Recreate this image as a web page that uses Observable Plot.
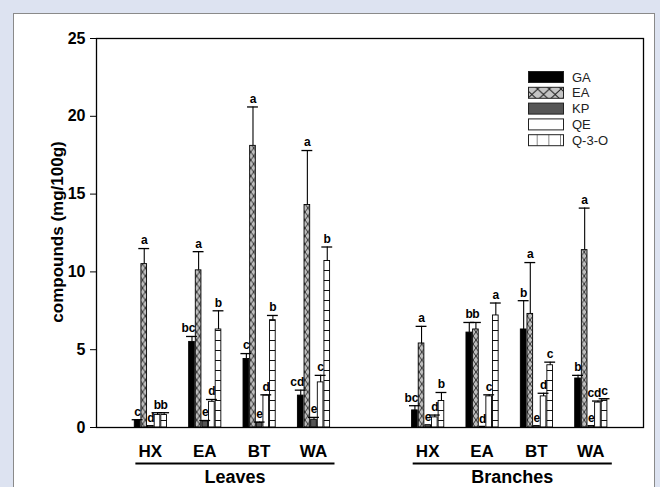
<!DOCTYPE html>
<html><head><meta charset="utf-8">
<script src="https://cdn.jsdelivr.net/npm/d3@7"></script>
<script src="https://cdn.jsdelivr.net/npm/@observablehq/plot@0.6"></script>
<style>
html,body{margin:0;padding:0;background:#dde3f1;width:660px;height:487px;overflow:hidden;font-family:"Liberation Sans",Arial,sans-serif;}
#panel{position:absolute;left:13px;top:13px;width:642px;height:490px;background:#fff;border:1px solid #8a8a8a;box-sizing:border-box;}
#chart{position:absolute;left:0;top:0;}
#legend{position:absolute;left:526px;top:67px;}
</style></head><body>
<div id="panel"></div>
<svg width="0" height="0" style="position:absolute">
  <defs>
    <pattern id="eaBar" patternUnits="userSpaceOnUse" width="5.7" height="8">
      <rect width="5.7" height="8" fill="#bdbdbd"/>
      <path d="M0,0L5.7,8M5.7,0L0,8" stroke="#222" stroke-width="0.9" fill="none"/>
    </pattern>
    <pattern id="q3oBar" patternUnits="userSpaceOnUse" width="10" height="10">
      <rect width="10" height="10" fill="#fff"/>
      <path d="M0,0.5H10" stroke="#111" stroke-width="1" fill="none"/>
    </pattern>
    <pattern id="eaLeg" patternUnits="userSpaceOnUse" width="11.67" height="11">
      <rect width="11.67" height="11" fill="#c4c4c4"/>
      <path d="M0,0L11.67,11M11.67,0L0,11" stroke="#222" stroke-width="1" fill="none"/>
    </pattern>
    <pattern id="q3oLeg" patternUnits="userSpaceOnUse" width="11.67" height="11">
      <rect width="11.67" height="11" fill="#fff"/>
      <path d="M11.67,0V11" stroke="#111" stroke-width="1" fill="none"/>
    </pattern>
  </defs>
</svg>
<div id="chart"></div>
<div id="legend"></div>
<script>
// ---- data ----
const groups = ["HX","EA","BT","WA","HX","EA","BT","WA"];
const organs = ["Leaves","Branches"];
const positions = [1,2,3,4,6.1,7.1,8.1,9.1];
const seriesNames = ["GA","EA","KP","QE","Q-3-O"];

const GA     = [0.45, 5.5, 4.4, 2.05, 1.1, 6.1, 6.3, 3.15];
const GA_err = [0.5, 5.85, 4.75, 2.4, 1.4, 6.75, 8.15, 3.35];
const GA_sig = ["c","bc","c","cd","bc","b","b","b"];

const EA     = [10.5, 10.1, 18.1, 14.3, 5.4, 6.3, 7.3, 11.4];
const EA_err = [11.5, 11.3, 20.6, 17.8, 6.5, 6.75, 10.6, 14.1];
const EA_sig = ["a","a","a","a","a","b","a","a"];

const KP     = [0.1, 0.4, 0.3, 0.5, 0.15, 0.05, 0.1, 0.1];
const KP_err = [0.1, 0.45, 0.35, 0.65, 0.15, 0.05, 0.1, 0.1];
const KP_sig = ["d","e","e","e","e","d","e","e"];

const QE     = [0.8, 1.65, 2.05, 2.9, 0.65, 2.0, 2.0, 1.6];
const QE_err = [0.95, 1.8, 2.1, 3.35, 0.8, 2.1, 2.2, 1.7];
const QE_sig = ["b","d","d","c","d","c","d","cd"];

const Q3O     = [0.8, 6.3, 6.9, 10.7, 1.7, 7.2, 4.0, 1.8];
const Q3O_err = [0.95, 7.5, 7.2, 11.6, 2.25, 8.0, 4.2, 1.85];
const Q3O_sig = ["b","b","b","b","b","a","c","c"];

// ---- styling ----
const fills = ["#000", "url(#eaBar)", "#555", "#fff", "url(#q3oBar)"];
const legendFills = ["#000", "url(#eaLeg)", "#555", "#fff", "url(#q3oLeg)"];
const step = 0.122, bw = 0.104, cw = 0.2;

const seriesData = [
  [GA, GA_err, GA_sig], [EA, EA_err, EA_sig], [KP, KP_err, KP_sig],
  [QE, QE_err, QE_sig], [Q3O, Q3O_err, Q3O_sig]
];
const rows = [];
seriesData.forEach(([v, e, s], k) => positions.forEach((p, i) => {
  rows.push({k, c: p + (k - 2) * step, v: v[i], e: e[i], sig: s[i]});
}));

const marks = [];
seriesData.forEach((_, k) => {
  marks.push(Plot.rectY(rows.filter(d => d.k === k), {
    x1: d => d.c - bw / 2, x2: d => d.c + bw / 2, y1: 0, y2: "v",
    fill: fills[k], stroke: "#000", strokeWidth: 0.9
  }));
});
const withErr = rows.filter(d => d.e > d.v + 0.02);
marks.push(Plot.ruleX(withErr, {x: "c", y1: "v", y2: "e", stroke: "#000", strokeWidth: 1.1}));
marks.push(Plot.ruleY(withErr, {y: "e", x1: d => d.c - cw / 2, x2: d => d.c + cw / 2, stroke: "#000", strokeWidth: 1.3}));
const letterOpts = {x: "c", y: d => Math.max(d.e, d.v), text: "sig", dy: -8,
  fontSize: 12, fontWeight: "bold", fill: "#000"};
marks.push(Plot.text(rows.filter(d => d.sig.length === 1), letterOpts));
marks.push(Plot.text(rows.filter(d => d.sig.length > 1), {...letterOpts, dx: -3.5}));
marks.push(Plot.frame({stroke: "#000", strokeWidth: 1.3}));

const plot = Plot.plot({
  width: 660, height: 487,
  marginLeft: 96, marginRight: 17, marginTop: 38, marginBottom: 60,
  x: {domain: [0, 10.06], axis: null},
  y: {domain: [0, 25], ticks: 5, tickSize: 6, tickPadding: 5, label: null},
  style: {background: "transparent", fontFamily: "'Liberation Sans', Arial, sans-serif",
          fontSize: "16px", fontWeight: "bold", color: "#000", overflow: "visible"},
  marks
});
document.getElementById("chart").appendChild(plot);

// ---- category labels, underlines, organ labels, y title ----
const xs = plot.scale("x");
const X = v => xs.apply(v);
const svg = d3.select(plot);
const g = svg.append("g").attr("font-family", "'Liberation Sans', Arial, sans-serif").attr("font-weight", "bold").attr("fill", "#000");
positions.forEach((p, i) => {
  g.append("text").attr("x", X(p)).attr("y", 451).attr("dy", "0.35em")
    .attr("text-anchor", "middle").attr("font-size", 17).text(groups[i]);
});
organs.forEach((o, j) => {
  const a = X(positions[j * 4]) - 15, b = X(positions[j * 4 + 3]) + 21;
  g.append("line").attr("x1", a).attr("x2", b).attr("y1", 463.5).attr("y2", 463.5)
    .attr("stroke", "#000").attr("stroke-width", 2);
  g.append("text").attr("x", (a + b) / 2).attr("y", 477).attr("dy", "0.35em")
    .attr("text-anchor", "middle").attr("font-size", 18).text(o);
});
g.append("text").attr("transform", "translate(57,232) rotate(-90)").attr("dy", "0.35em")
  .attr("text-anchor", "middle").attr("font-size", 17).text("compounds (mg/100g)");

// ---- legend ----
const leg = d3.select("#legend").append("svg").attr("width", 100).attr("height", 90);
seriesNames.forEach((n, k) => {
  const y = 4 + k * 15.8;
  leg.append("rect").attr("x", 2.5).attr("y", y + 0.5).attr("width", 35).attr("height", 11)
    .attr("fill", legendFills[k]).attr("stroke", "#222").attr("stroke-width", 1);
  leg.append("text").attr("x", 46).attr("y", y + 6).attr("dy", "0.35em")
    .attr("font-family", "'Liberation Sans', Arial, sans-serif").attr("font-size", 13)
    .attr("fill", "#222").text(n);
});
</script>
</body></html>
